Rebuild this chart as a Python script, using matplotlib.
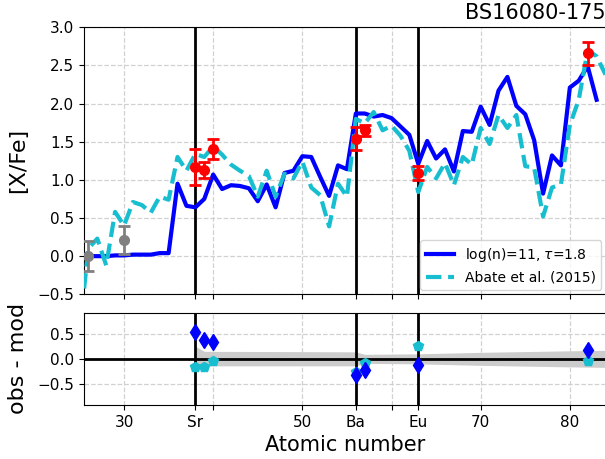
import numpy as np
import matplotlib
matplotlib.use('Agg')
import matplotlib.pyplot as plt

# model curves
Z_model = np.arange(26, 84)
xfe_model = [0.00, 0.00, 0.00, 0.01, 0.01, 0.02, 0.02, 0.02, 0.04, 0.04,
             0.95, 0.66, 0.64, 0.75, 1.07, 0.88, 0.93, 0.92, 0.89, 0.72,
             0.94, 0.64, 1.09, 1.12, 1.31, 1.30, 1.04, 0.79, 1.19, 1.14,
             1.87, 1.87, 1.83, 1.85, 1.81, 1.70, 1.59, 1.21, 1.51, 1.28,
             1.40, 1.11, 1.64, 1.63, 1.96, 1.72, 2.17, 2.35, 1.97, 1.86,
             1.52, 0.82, 1.32, 1.19, 2.21, 2.30, 2.49, 2.05]

Z_abate = np.arange(25, 85)
xfe_abate = [-1.00, 0.10, 0.23, -0.12, 0.58, 0.40, 0.71, 0.67, 0.57, 0.78,
             0.74, 1.30, 1.12, 1.34, 1.30, 1.44, 1.33, 1.20, 1.12, 1.05,
             0.78, 1.12, 0.78, 1.08, 1.02, 1.24, 0.90, 0.80, 0.39, 0.95,
             0.78, 1.80, 1.74, 1.89, 1.65, 1.71, 1.58, 1.38, 0.84, 1.17,
             1.02, 1.22, 0.93, 1.30, 1.20, 1.68, 1.47, 1.85, 1.68, 1.85,
             1.18, 1.16, 0.52, 0.90, 0.94, 1.72, 2.05, 2.70, 2.62, 2.38]

# observations
Z_obs = np.array([38, 39, 40, 56, 57, 63, 82])
xfe_obs = np.array([1.17, 1.13, 1.40, 1.54, 1.65, 1.09, 2.66])
err_obs = np.array([0.24, 0.10, 0.13, 0.15, 0.07, 0.09, 0.15])

Z_ref = [26, 30]
xfe_ref = [0.00, 0.21]
err_ref = [0.20, 0.18]

# model uncertainty band in residual panel
band_z = [38, 39, 56, 57, 63, 70, 80, 84]
band_hi = [0.25, 0.15, 0.14, 0.09, 0.10, 0.13, 0.16, 0.17]
band_lo = [-0.13, -0.14, -0.14, -0.09, -0.10, -0.13, -0.16, -0.17]

tick_pos = [30, 38, 40, 50, 56, 60, 63, 70, 80]
tick_lab = ['30', 'Sr', '', '50', 'Ba', '', 'Eu', '70', '80']
elem_lines = [38, 56, 63]

mod_at_obs = np.interp(Z_obs, Z_model, xfe_model)
abate_at_obs = np.interp(Z_obs, Z_abate, xfe_abate)

fig = plt.figure(figsize=(6.05, 4.59), dpi=100)
W = 605.0; H = 459.0
x0 = 83.9 / W
w = (605.5 - 83.9) / W
ax = fig.add_axes([x0, 1 - 294.3 / H, w, (294.3 - 27.3) / H])
ax2 = fig.add_axes([x0, 1 - 405.0 / H, w, (405.0 - 312.7) / H])

for a in (ax, ax2):
    a.grid(True, linestyle='--', color='0.82', linewidth=0.9)
    a.set_axisbelow(True)
    for z in elem_lines:
        a.axvline(z, color='k', linewidth=2, zorder=2)
    a.set_xlim(25.5, 84.0)
    a.set_xticks(tick_pos)
    a.tick_params(labelsize=11)

ax.plot(Z_model, xfe_model, color='blue', linewidth=3, label=r'log(n)=11, $\tau$=1.8', zorder=3)
ax.plot(Z_abate, xfe_abate, color='#17becf', linewidth=3, linestyle='--', label='Abate et al. (2015)', zorder=3)
ax.errorbar(Z_obs, xfe_obs, yerr=err_obs, fmt='o', color='red', ms=7, elinewidth=2,
            capsize=4, capthick=2, zorder=4)
ax.errorbar(Z_ref, xfe_ref, yerr=err_ref, fmt='o', color='grey', ms=7, elinewidth=2,
            capsize=4, capthick=2, zorder=4)
ax.set_ylim(-0.5, 3.0)
ax.set_yticks(np.arange(-0.5, 3.01, 0.5))
ax.set_xticklabels([])
ax.set_ylabel('[X/Fe]', fontsize=16)
ax.yaxis.set_label_coords(-0.107, 0.5)
ax.set_title('BS16080-175', loc='right', fontsize=15)
leg = ax.legend(loc='lower right', fontsize=10, borderaxespad=0.3)

ax2.fill_between(band_z, band_lo, band_hi, color='0.8', linewidth=0, zorder=1)
ax2.axhline(0, color='k', linewidth=2, zorder=2)
ax2.plot(Z_obs, xfe_obs - abate_at_obs, 'p', color='#17becf', ms=7, zorder=3)
ax2.plot(Z_obs, xfe_obs - mod_at_obs, 'd', color='blue', ms=8, zorder=4)
ax2.set_ylim(-0.92, 0.92)
ax2.set_yticks([-0.5, 0.0, 0.5])
ax2.set_xticklabels(tick_lab)
ax2.set_ylabel('obs - mod', fontsize=16)
ax2.yaxis.set_label_coords(-0.107, 0.5)
ax2.set_xlabel('Atomic number', fontsize=15)

plt.savefig('out.png', dpi=100)
